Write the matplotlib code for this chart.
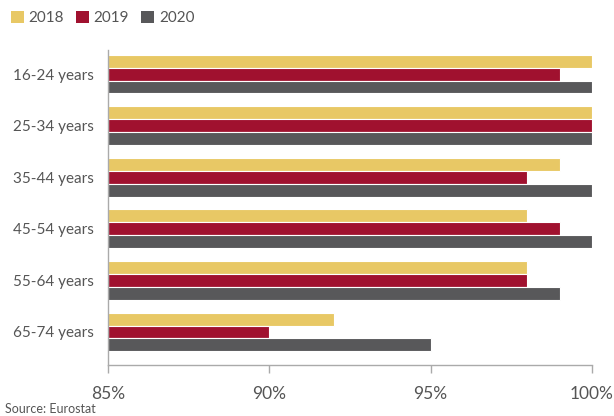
import numpy as np
import matplotlib
matplotlib.use("Agg")
import matplotlib.pyplot as plt
from matplotlib.patches import Patch

# ── Data ──────────────────────────────────────────────────────────────────────
age_groups = ["16-24 years", "25-34 years", "35-44 years",
              "45-54 years", "55-64 years", "65-74 years"]
years = ["2018", "2019", "2020"]
v2018 = [100, 100, 99, 98, 98, 92]
v2019 = [99, 100, 98, 99, 98, 90]
v2020 = [100, 100, 100, 100, 99, 95]

COLOURS = ["#E8C865", "#A0112F", "#58585A"]
TEXT_COL = "#555555"
AXIS_COL = "#AAAAAA"

plt.rcParams["font.family"] = ["Lato", "DejaVu Sans"]

fig = plt.figure(figsize=(6.14, 4.16), dpi=100, facecolor="white")
ax = fig.add_axes([0.176, 0.1226, 0.788, 0.757])

y = np.arange(len(age_groups))
h = 0.25
for i, (vals, col) in enumerate(zip([v2018, v2019, v2020], COLOURS)):
    ax.barh(y + (i - 1) * h, np.array(vals) - 85, left=85, height=h,
            color=col, edgecolor="white", linewidth=0.8)

ax.set_xlim(85, 100)
ax.set_ylim(len(age_groups) - 1 + 0.64, -0.465)
ax.set_xticks([85, 90, 95, 100])
ax.set_xticklabels(["85%", "90%", "95%", "100%"])
ax.set_yticks(y)
ax.set_yticklabels(age_groups)

for s in ["top", "right"]:
    ax.spines[s].set_visible(False)
ax.spines["left"].set_color(AXIS_COL)
ax.spines["left"].set_linewidth(1.0)
ax.spines["bottom"].set_color(AXIS_COL)
ax.spines["bottom"].set_linewidth(1.0)

ax.tick_params(axis="x", colors=AXIS_COL, labelcolor=TEXT_COL, labelsize=12.5,
               length=6, width=1.0, direction="out", pad=9)
ax.tick_params(axis="y", length=0, labelcolor=TEXT_COL, labelsize=11, pad=10)

handles = [Patch(facecolor=c, edgecolor="none") for c in COLOURS]
fig.legend(handles, years, loc="upper left", bbox_to_anchor=(0.0, 1.0),
           ncol=3, frameon=False, fontsize=11, labelcolor=TEXT_COL,
           handlelength=0.85, handleheight=0.85, handletextpad=0.3,
           columnspacing=0.8, borderaxespad=0.3)

fig.text(0.008, 0.003, "Source: Eurostat", ha="left", va="bottom",
         color=TEXT_COL, fontsize=9)

fig.savefig("out.png", dpi=100, facecolor="white")
